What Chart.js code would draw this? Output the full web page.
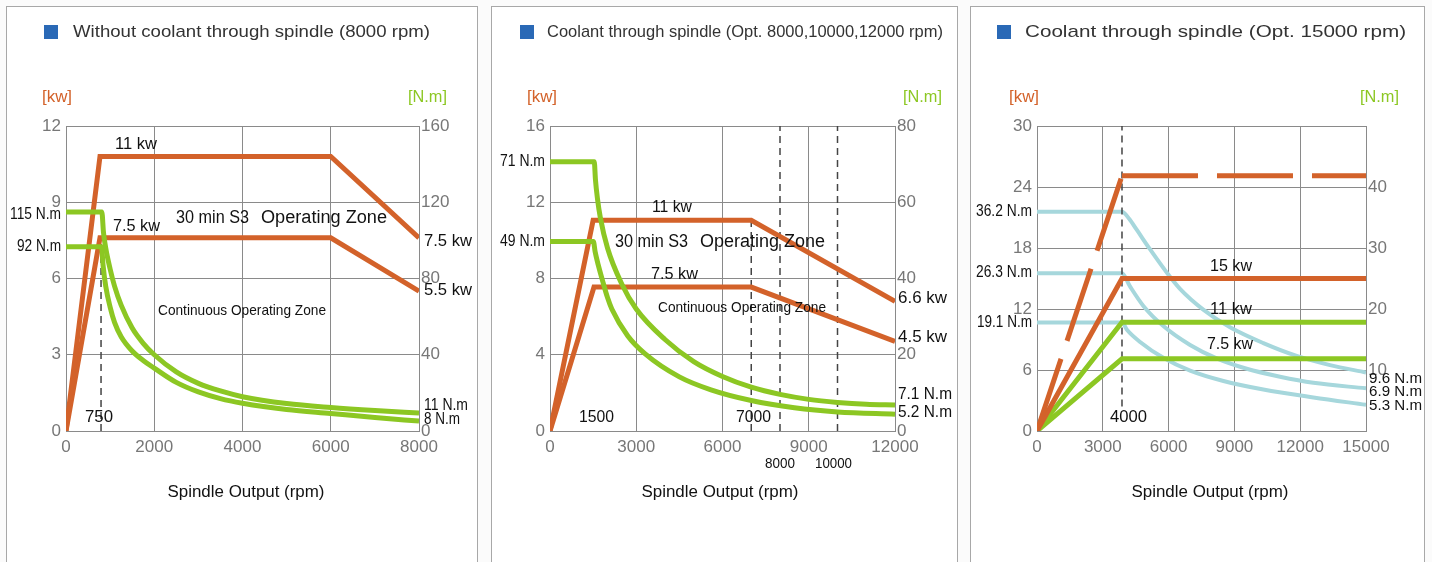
<!DOCTYPE html>
<html><head><meta charset="utf-8">
<script src="https://cdn.jsdelivr.net/npm/chart.js@4"></script>
<style>
html,body{margin:0;padding:0;background:#fbfbfb;}
body{width:1432px;height:562px;position:relative;overflow:hidden;}
.panel{position:absolute;top:6px;height:600px;border:1px solid #a8a8a8;box-sizing:border-box;background:#fff;}
canvas{position:absolute;top:0;}
</style></head><body>
<div class="panel" style="left:6px;width:472px"></div>
<div class="panel" style="left:491px;width:467px"></div>
<div class="panel" style="left:970px;width:455px"></div>
<canvas id="c1" width="471" height="562" style="left:6px"></canvas>
<canvas id="c2" width="466" height="562" style="left:491px"></canvas>
<canvas id="c3" width="455" height="562" style="left:970px"></canvas>
<script>
// ================= DATA =================
// Panel 1 : Without coolant through spindle (8000 rpm)
const p1XTicks = [0, 2000, 4000, 6000, 8000];
const p1KwTicks = [0, 3, 6, 9, 12];
const p1NmTicks = [0, 40, 80, 120, 160];
const p1PowerRpm = [0, 770, 6000, 8000];
const p1Power11 = [0, 10.8, 10.8, 7.6];
const p1Power75 = [0, 7.6, 7.6, 5.5];
const p1TorqueHiRpm = [0, 812, 850, 900, 1000, 1100, 1250, 1500, 1750, 2000, 2500, 3000, 3500, 4000, 5000, 6000, 7000, 8000];
const p1TorqueHi = [114.9, 114.9, 104, 96, 85, 76, 66, 54, 46, 40, 31, 25, 21, 18, 14.4, 12.3, 10.7, 9.4];
const p1TorqueLoRpm = [0, 805, 840, 900, 1000, 1100, 1250, 1500, 1750, 2000, 2500, 3000, 3500, 4000, 5000, 6000, 7000, 8000];
const p1TorqueLo = [96.7, 96.7, 87, 76, 65, 57, 49.5, 42, 37, 33, 25.5, 20.5, 17, 14.6, 11.3, 9.2, 7.1, 5.2];
const p1MarkerRpm = [794];
const p1MarkerTop = [7.6];

// Panel 2 : Coolant through spindle (Opt. 8000,10000,12000 rpm)
const p2XTicks = [0, 3000, 6000, 9000, 12000];
const p2KwTicks = [0, 4, 8, 12, 16];
const p2NmTicks = [0, 20, 40, 60, 80];
const p2Power11Rpm = [0, 1500, 7000, 12000];
const p2Power11 = [0, 11.05, 11.05, 6.8];
const p2Power75Rpm = [0, 1530, 7000, 12000];
const p2Power75 = [0, 7.55, 7.55, 4.7];
const p2TorqueHiRpm = [0, 1540, 1580, 1650, 1750, 2000, 2500, 3000, 4000, 5000, 6000, 7000, 8000, 9000, 10000, 11000, 12000];
const p2TorqueHi = [70.6, 70.6, 66, 61, 56, 48, 38.5, 32, 24, 18.2, 14.3, 11.5, 9.6, 8.3, 7.5, 7.0, 6.8];
const p2TorqueLoRpm = [0, 1510, 1570, 1680, 1855, 2000, 2150, 2700, 3300, 4500, 5600, 7000, 8500, 10000, 12000];
const p2TorqueLo = [49.7, 49.7, 47, 43.5, 38.7, 35, 32, 25, 20.3, 14.2, 10.8, 8, 6.1, 5.0, 4.4];
const p2MarkerRpm = [7000, 8000, 10000];
const p2MarkerTop = [11.05, 16, 16];

// Panel 3 : Coolant through spindle (Opt. 15000 rpm)
const p3XTicks = [0, 3000, 6000, 9000, 12000, 15000];
const p3KwTicks = [0, 6, 12, 18, 24, 30];
const p3NmTicks = [10, 20, 30, 40];
const p3PowerRpm = [0, 3875, 15000];
const p3PowerMax = [0, 25.1, 25.1];
const p3Power15 = [0, 15, 15];
const p3Power11 = [0, 10.7, 10.7];
const p3Power75 = [0, 7.1, 7.1];
const p3Torque36Rpm = [0, 3875, 4200, 4545, 5150, 5910, 6520, 7580, 8800, 10320, 11840, 13360, 15000];
const p3Torque36 = [35.95, 35.95, 34.8, 33, 29.8, 26, 23.3, 19.9, 17, 14.4, 12.3, 10.8, 9.6];
const p3Torque26Rpm = [0, 3875, 4240, 4850, 5760, 6980, 8190, 9560, 11080, 12600, 15000];
const p3Torque26 = [25.85, 25.85, 23.7, 20.5, 17.2, 14.1, 11.9, 10.2, 8.9, 7.9, 7.0];
const p3Torque19Rpm = [0, 3875, 4100, 4700, 5760, 6980, 8500, 10320, 12600, 15000];
const p3Torque19 = [17.8, 17.8, 16.6, 14.6, 12.0, 9.9, 8.2, 6.8, 5.5, 4.3];
const p3MarkerRpm = [3875];
const p3MarkerBottom = [2.4];
const p3MarkerTop = [30];

// ================= STYLE / HELPERS =================
const FONT = "'Liberation Sans', Arial, sans-serif";
const ORANGE = '#d3622a', GREEN = '#8cc723', BLUE = '#a6d7dc', GRID = '#8a8a8a', TICK = '#777', INK = '#111';

function pts(xs, ys) { return xs.map((x, i) => ({ x: x, y: ys[i] })); }
function line(data, color, width, axis, order, extra) {
  return Object.assign({ data: data, borderColor: color, borderWidth: width, yAxisID: axis, order: order,
    pointRadius: 0, tension: 0, fill: false, borderJoinStyle: 'miter', borderCapStyle: 'butt' }, extra || {});
}
function curve(data, color, width, axis, order) {
  return line(data, color, width, axis, order, { cubicInterpolationMode: 'monotone', borderJoinStyle: 'round' });
}
function markers(rpms, bottoms, tops, order) {
  return rpms.map((r, i) => line([{ x: r, y: bottoms ? bottoms[i] : 0 }, { x: r, y: tops[i] }], '#444', 1.5, 'yL', order, { borderDash: [7, 5] }));
}

function txt(ctx, t, x, y, o) {
  o = o || {};
  ctx.save();
  ctx.font = (o.weight || '') + ' ' + (o.size || 16) + 'px ' + FONT;
  ctx.fillStyle = o.color || INK;
  ctx.textBaseline = 'middle'; ctx.textAlign = 'left';
  const m = ctx.measureText(t).width;
  const sx = o.w ? o.w / m : 1;
  const W = m * sx;
  const left = o.align === 'right' ? x - W : o.align === 'center' ? x - W / 2 : x;
  ctx.translate(left, y); ctx.scale(sx, 1); ctx.fillText(t, 0, 0);
  ctx.restore();
}

const decor = {
  id: 'decor',
  afterDraw(chart, args, o) {
    const ctx = chart.ctx, xs = chart.scales.x, ca = chart.chartArea;
    ctx.save();
    ctx.fillStyle = '#2a69b6'; ctx.fillRect(o.sqX, 25, 14, 14);
    txt(ctx, o.title, o.titleX, 32, { size: 17, color: '#333', w: o.titleW });
    txt(ctx, '[kw]', o.kwX, 98, { size: 16, color: ORANGE, w: 30 });
    txt(ctx, '[N.m]', o.nmX, 98, { size: 16, color: GREEN, w: 39 });
    txt(ctx, 'Spindle Output (rpm)', o.xtX, 493, { size: 16, color: INK, align: 'center', w: 157 });
    o.labels.forEach(L => {
      const ys = chart.scales[L.ax || 'yL'];
      let px, align = L.align || 'left';
      if (L.x === 'L') { px = ca.left - (L.gap || 5); align = 'right'; }
      else if (L.x === 'R') { px = ca.right + (L.gap || 4); align = 'left'; }
      else px = xs.getPixelForValue(L.x);
      txt(ctx, L.t, px, ys.getPixelForValue(L.y), { size: L.size || 16, w: L.w, align: align, color: INK });
    });
    ctx.restore();
  }
};

function build(id, P) {
  const tickFont = { family: FONT, size: 17 };
  const setTicks = arr => s => { s.ticks = arr.map(v => ({ value: v })); };
  const plain = v => String(v);
  return new Chart(document.getElementById(id), {
    type: 'line',
    data: { datasets: P.datasets },
    options: {
      responsive: false, animation: false, devicePixelRatio: 1,
      layout: { padding: { top: 126, bottom: 91, left: 0, right: 0 } },
      plugins: { legend: { display: false }, tooltip: { enabled: false }, decor: P.decor },
      scales: {
        x: { type: 'linear', min: 0, max: P.xMax, afterBuildTicks: setTicks(P.xTicks), afterFit: s => { s.height = 40; },
          grid: { color: GRID, drawTicks: false, lineWidth: 1 }, border: { color: GRID },
          ticks: { color: TICK, font: tickFont, padding: 6, maxRotation: 0, autoSkip: false, callback: plain } },
        yL: { type: 'linear', position: 'left', min: 0, max: P.lMax, afterBuildTicks: setTicks(P.lTicks), afterFit: s => { s.width = P.leftW; },
          grid: { color: GRID, drawTicks: false, lineWidth: 1 }, border: { color: GRID },
          ticks: { color: TICK, font: tickFont, padding: 5, autoSkip: false, callback: plain } },
        yR: { type: 'linear', position: 'right', min: 0, max: P.rMax, afterBuildTicks: setTicks(P.rTicks), afterFit: s => { s.width = P.rightW; },
          grid: { drawOnChartArea: false, drawTicks: false }, border: { color: GRID },
          ticks: { color: TICK, font: tickFont, padding: 2, autoSkip: false, callback: plain } }
      }
    },
    plugins: [decor]
  });
}

// ================= PANEL 1 =================
build('c1', {
  xMax: 8000, lMax: 12, rMax: 160, xTicks: p1XTicks, lTicks: p1KwTicks, rTicks: p1NmTicks, leftW: 60, rightW: 58,
  datasets: [
    curve(pts(p1TorqueHiRpm, p1TorqueHi), GREEN, 5, 'yR', 1),
    curve(pts(p1TorqueLoRpm, p1TorqueLo), GREEN, 5, 'yR', 1),
    line(pts(p1PowerRpm, p1Power11), ORANGE, 5, 'yL', 2),
    line(pts(p1PowerRpm, p1Power75), ORANGE, 5, 'yL', 2)
  ].concat(markers(p1MarkerRpm, null, p1MarkerTop, 5)),
  decor: {
    sqX: 38, title: 'Without coolant through spindle (8000 rpm)', titleX: 67, titleW: 357,
    kwX: 36, nmX: 402, xtX: 240,
    labels: [
      { t: '11 kw', x: 1110, y: 11.25, w: 42 },
      { t: '7.5 kw', x: 1065, y: 8.03, w: 47 },
      { t: '30 min S3', x: 2493, y: 8.38, w: 73, size: 18 },
      { t: 'Operating Zone', x: 4419, y: 8.38, w: 126, size: 18 },
      { t: 'Continuous Operating Zone', x: 2085, y: 4.72, w: 168, size: 15 },
      { t: '750', x: 430, y: 0.51, w: 28 },
      { t: '115 N.m', x: 'L', y: 8.5, w: 51, gap: 5 },
      { t: '92 N.m', x: 'L', y: 7.26, w: 44, gap: 5 },
      { t: '7.5 kw', x: 'R', y: 7.47, w: 48, gap: 5 },
      { t: '5.5 kw', x: 'R', y: 5.51, w: 48, gap: 5 },
      { t: '11 N.m', x: 'R', y: 0.98, w: 44, gap: 5 },
      { t: '8 N.m', x: 'R', y: 0.43, w: 36, gap: 5 }
    ]
  }
});

// ================= PANEL 2 =================
build('c2', {
  xMax: 12000, lMax: 16, rMax: 80, xTicks: p2XTicks, lTicks: p2KwTicks, rTicks: p2NmTicks, leftW: 59, rightW: 62,
  datasets: [
    curve(pts(p2TorqueHiRpm, p2TorqueHi), GREEN, 5, 'yR', 1),
    curve(pts(p2TorqueLoRpm, p2TorqueLo), GREEN, 5, 'yR', 1),
    line(pts(p2Power11Rpm, p2Power11), ORANGE, 5, 'yL', 2),
    line(pts(p2Power75Rpm, p2Power75), ORANGE, 5, 'yL', 2)
  ].concat(markers(p2MarkerRpm, null, p2MarkerTop, 5)),
  decor: {
    sqX: 29, title: 'Coolant through spindle (Opt. 8000,10000,12000 rpm)', titleX: 56, titleW: 396,
    kwX: 36, nmX: 412, xtX: 229,
    labels: [
      { t: '11 kw', x: 3548, y: 11.7, w: 40 },
      { t: '30 min S3', x: 2261, y: 9.92, w: 73, size: 18 },
      { t: 'Operating Zone', x: 5217, y: 9.92, w: 125, size: 18 },
      { t: '7.5 kw', x: 3513, y: 8.18, w: 47 },
      { t: 'Continuous Operating Zone', x: 3757, y: 6.45, w: 168, size: 15 },
      { t: '1500', x: 1009, y: 0.68, w: 35 },
      { t: '7000', x: 6470, y: 0.68, w: 35 },
      { t: '8000', x: 8000, y: -1.73, w: 30, size: 14, align: 'center' },
      { t: '10000', x: 9861, y: -1.73, w: 37, size: 14, align: 'center' },
      { t: '71 N.m', x: 'L', y: 14.12, w: 45, gap: 5 },
      { t: '49 N.m', x: 'L', y: 9.92, w: 45, gap: 5 },
      { t: '6.6 kw', x: 'R', y: 6.92, w: 49, gap: 3 },
      { t: '4.5 kw', x: 'R', y: 4.88, w: 49, gap: 3 },
      { t: '7.1 N.m', x: 'R', y: 1.89, w: 54, gap: 3 },
      { t: '5.2 N.m', x: 'R', y: 0.94, w: 54, gap: 3 }
    ]
  }
});

// ================= PANEL 3 =================
build('c3', {
  xMax: 15000, lMax: 30, rMax: 50, xTicks: p3XTicks, lTicks: p3KwTicks, rTicks: p3NmTicks, leftW: 67, rightW: 59,
  datasets: [
    line(pts(p3PowerRpm.slice(0, 2), p3PowerMax.slice(0, 2)), ORANGE, 5, 'yL', 1, { borderDash: [76, 19] }),
    line(pts(p3PowerRpm.slice(1), p3PowerMax.slice(1)), ORANGE, 5, 'yL', 1, { borderDash: [76, 19] }),
    line(pts(p3PowerRpm, p3Power15), ORANGE, 5, 'yL', 1),
    line(pts(p3PowerRpm, p3Power11), GREEN, 5, 'yL', 1),
    line(pts(p3PowerRpm, p3Power75), GREEN, 5, 'yL', 1),
    curve(pts(p3Torque36Rpm, p3Torque36), BLUE, 4, 'yR', 3),
    curve(pts(p3Torque26Rpm, p3Torque26), BLUE, 4, 'yR', 3),
    curve(pts(p3Torque19Rpm, p3Torque19), BLUE, 4, 'yR', 3)
  ].concat(markers(p3MarkerRpm, p3MarkerBottom, p3MarkerTop, 2)),
  decor: {
    sqX: 27, title: 'Coolant through spindle (Opt. 15000 rpm)', titleX: 55, titleW: 381,
    kwX: 39, nmX: 390, xtX: 240,
    labels: [
      { t: '15 kw', x: 7888, y: 16.13, w: 42 },
      { t: '11 kw', x: 7888, y: 11.9, w: 42 },
      { t: '7.5 kw', x: 7751, y: 8.46, w: 46 },
      { t: '4000', x: 3328, y: 1.28, w: 37 },
      { t: '36.2 N.m', x: 'L', y: 21.54, w: 56, gap: 5 },
      { t: '26.3 N.m', x: 'L', y: 15.54, w: 56, gap: 5 },
      { t: '19.1 N.m', x: 'L', y: 10.62, w: 55, gap: 5 },
      { t: '9.6 N.m', x: 'R', y: 5.11, w: 53, gap: 3, size: 15 },
      { t: '6.9 N.m', x: 'R', y: 3.84, w: 53, gap: 3, size: 15 },
      { t: '5.3 N.m', x: 'R', y: 2.46, w: 53, gap: 3, size: 15 }
    ]
  }
});
</script>
</body></html>
